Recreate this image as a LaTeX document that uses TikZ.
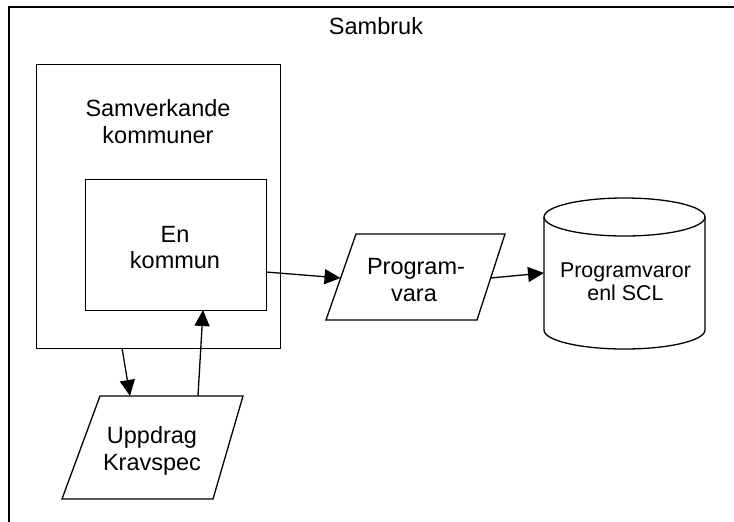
\documentclass[tikz,border=0pt]{standalone}
\usepackage{fontspec}
\setmainfont{Liberation Sans}
\usetikzlibrary{arrows.meta}
\begin{document}
\begin{tikzpicture}[x=1pt,y=-1pt,
  shapeline/.style={line width=1.3pt, line join=miter},
  frameline/.style={line width=2pt},
  box/.style={draw, shapeline, inner sep=0pt, anchor=north west},
  arr/.style={line width=1.3pt, -{Triangle[length=16pt,width=15pt]}},
  lbl/.style={anchor=base, inner sep=0pt, font=\fontsize{23.5}{27}\selectfont},
  lblsmall/.style={anchor=base, inner sep=0pt, font=\fontsize{21.4}{24}\selectfont}]
\useasboundingbox (0,0) rectangle (734,522);

% outer frame (open on the right and at the bottom)
\draw[frameline] (9,522) -- (9,7) -- (734,7);
\node[lbl] (sambruk) at (376,34.5) {Sambruk};

% boxes
\node[box, minimum width=244pt, minimum height=284pt] (sk) at (36,64) {};
\node[lbl] (sk1) at (158,116) {Samverkande};
\node[lbl] (sk2) at (158,143) {kommuner};

\node[box, minimum width=181pt, minimum height=131pt] (ek) at (85,179) {};
\node[lbl] (ek1) at (175,242) {En};
\node[lbl] (ek2) at (175,268) {kommun};

% parallelogram: Uppdrag / Kravspec
\coordinate (ud-tl) at (100,396);
\coordinate (ud-tr) at (243,396);
\coordinate (ud-br) at (213,499);
\coordinate (ud-bl) at (62,499);
\draw[shapeline] (ud-tl) -- (ud-tr) -- (ud-br) -- (ud-bl) -- cycle;
\node[lbl] (ud1) at (152,443) {Uppdrag};
\node[lbl] (ud2) at (152,470) {Kravspec};

% parallelogram: Programvara
\coordinate (pv-tl) at (356,234);
\coordinate (pv-tr) at (505,234);
\coordinate (pv-br) at (477,320);
\coordinate (pv-bl) at (326,320);
\draw[shapeline] (pv-tl) -- (pv-tr) -- (pv-br) -- (pv-bl) -- cycle;
\node[lbl] (pv1) at (416,274) {Program-};
\node[lbl] (pv2) at (414,301) {vara};

% cylinder: Programvaror enl SCL
\draw[shapeline] (624.5,217) ellipse[x radius=80.5, y radius=19];
\draw[shapeline] (544,217) -- (544,330) arc[start angle=180, end angle=0, x radius=80.5, y radius=19] -- (705,217);
\node[lblsmall] (db1) at (625.5,277) {Programvaror};
\node[lblsmall] (db2) at (625.5,300) {enl SCL};

% connector end points on the borders
\coordinate (sk-out) at (122,348);
\coordinate (ud-in) at (130,396);
\coordinate (ud-out) at (198,396);
\coordinate (ek-in) at (203,310);
\coordinate (ek-out) at (266,272);
\coordinate (pv-in) at (340.5,278);
\coordinate (pv-out) at (490.5,278);
\coordinate (db-in) at (544,273);

% connectors
\draw[arr] (sk-out) -- (ud-in);
\draw[arr] (ud-out) -- (ek-in);
\draw[arr] (ek-out) -- (pv-in);
\draw[arr] (pv-out) -- (db-in);
\end{tikzpicture}
\end{document}
